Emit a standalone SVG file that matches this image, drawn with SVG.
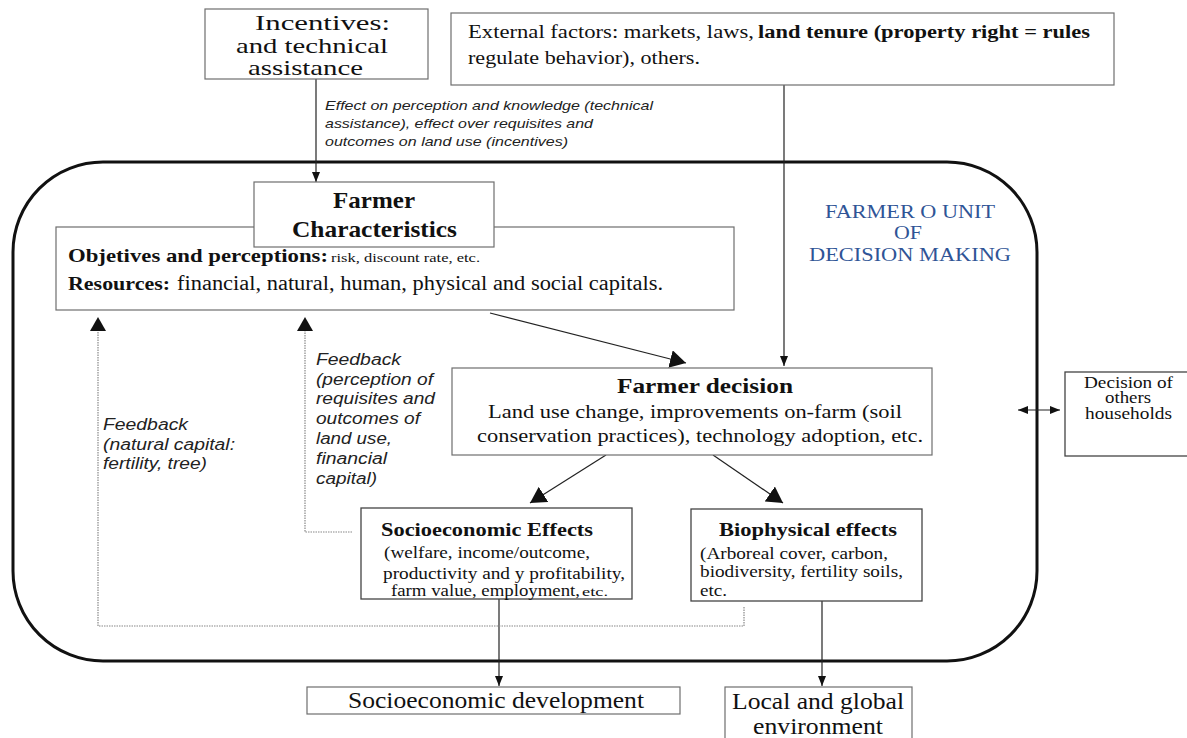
<svg xmlns="http://www.w3.org/2000/svg" width="1187" height="738" viewBox="0 0 1187 738">
<defs>
<style>
.box{fill:#fff;stroke:#6e6e6e;stroke-width:1.2}
.boxd{fill:#fff;stroke:#444;stroke-width:1.3}
.s{font-family:"Liberation Serif","Times New Roman",serif;fill:#111}
.b{font-weight:bold}
.i{font-family:"Liberation Sans",Arial,sans-serif;font-style:italic;fill:#222}
.blue{fill:#2f5496}
.ln{stroke:#222;stroke-width:1.2;fill:none}
.dot{stroke:#888;stroke-width:1.2;stroke-dasharray:1.5 1;fill:none}
</style>
<marker id="sm" markerUnits="userSpaceOnUse" markerWidth="10" markerHeight="10" viewBox="0 0 10 10" refX="10" refY="5" orient="auto"><path d="M0,1 L10,5 L0,9 z" fill="#111"/></marker>
<marker id="bg" markerUnits="userSpaceOnUse" markerWidth="16" markerHeight="18" viewBox="0 0 16 18" refX="16" refY="9" orient="auto"><path d="M0,0 L16,9 L0,18 z" fill="#111"/></marker>
<marker id="sms" markerUnits="userSpaceOnUse" markerWidth="10" markerHeight="10" viewBox="0 0 10 10" refX="0" refY="5" orient="auto"><path d="M10,1 L0,5 L10,9 z" fill="#111"/></marker>
</defs>
<rect width="1187" height="738" fill="#fff"/>

<g id="container">
<rect x="13" y="162" width="1024" height="499" rx="90" ry="90" fill="none" stroke="#111" stroke-width="3"/>
<text class="s blue" font-size="18" x="825" y="218" textLength="170" lengthAdjust="spacingAndGlyphs">FARMER O UNIT</text>
<text class="s blue" font-size="18" x="894" y="239" textLength="28" lengthAdjust="spacingAndGlyphs">OF</text>
<text class="s blue" font-size="18" x="809" y="261" textLength="202" lengthAdjust="spacingAndGlyphs">DECISION MAKING</text>
</g>

<g id="connectors">
<line class="ln" x1="316" y1="79" x2="316" y2="182" marker-end="url(#sm)"/>
<line class="ln" x1="784" y1="85" x2="784" y2="366" marker-end="url(#sm)"/>
<line class="ln" x1="490" y1="313" x2="686" y2="363" marker-end="url(#bg)"/>
<line class="ln" x1="606" y1="455" x2="530" y2="503" marker-end="url(#bg)"/>
<line class="ln" x1="713" y1="455" x2="783" y2="503" marker-end="url(#bg)"/>
<line class="ln" x1="499" y1="599" x2="499" y2="686" marker-end="url(#sm)"/>
<line class="ln" x1="822" y1="601" x2="822" y2="686" marker-end="url(#sm)"/>
<line class="ln" x1="1018" y1="410" x2="1060" y2="410" marker-start="url(#sms)" marker-end="url(#sm)"/>
<polyline class="dot" points="352,532 305,532 305,330"/>
<polyline class="dot" points="744,607 744,626 98,626 98,330"/>
<path d="M297,331 L305,317 L313,331 z" fill="#111"/>
<path d="M90,331 L98,317 L106,331 z" fill="#111"/>
<g class="i" font-size="13.5">
<text x="325" y="110" textLength="328" lengthAdjust="spacingAndGlyphs">Effect on perception and knowledge (technical</text>
<text x="325" y="128" textLength="268" lengthAdjust="spacingAndGlyphs">assistance), effect over requisites and</text>
<text x="325" y="146" textLength="243" lengthAdjust="spacingAndGlyphs">outcomes on land use (incentives)</text>
</g>
<g class="i" font-size="16">
<text x="103" y="430" textLength="85" lengthAdjust="spacingAndGlyphs">Feedback</text>
<text x="103" y="450" textLength="132" lengthAdjust="spacingAndGlyphs">(natural capital:</text>
<text x="103" y="469" textLength="104" lengthAdjust="spacingAndGlyphs">fertility, tree)</text>
<text x="316" y="365" textLength="85" lengthAdjust="spacingAndGlyphs">Feedback</text>
<text x="316" y="385" textLength="117" lengthAdjust="spacingAndGlyphs">(perception of</text>
<text x="316" y="404" textLength="119" lengthAdjust="spacingAndGlyphs">requisites and</text>
<text x="316" y="424" textLength="104" lengthAdjust="spacingAndGlyphs">outcomes of</text>
<text x="316" y="444" textLength="76" lengthAdjust="spacingAndGlyphs">land use,</text>
<text x="316" y="464" textLength="71" lengthAdjust="spacingAndGlyphs">financial</text>
<text x="316" y="484" textLength="61" lengthAdjust="spacingAndGlyphs">capital)</text>
</g>
</g>

<g id="incentives">
<rect class="box" x="205" y="9" width="223" height="70"/>
<text class="s" font-size="21" x="255" y="30" textLength="135" lengthAdjust="spacingAndGlyphs">Incentives:</text>
<text class="s" font-size="21" x="236" y="53" textLength="152" lengthAdjust="spacingAndGlyphs">and technical</text>
<text class="s" font-size="21" x="248" y="75" textLength="115" lengthAdjust="spacingAndGlyphs">assistance</text>
</g>

<g id="external">
<rect class="box" x="451" y="13" width="663" height="72"/>
<text class="s" font-size="18.5" x="468" y="38" textLength="286" lengthAdjust="spacingAndGlyphs">External factors: markets, laws,</text>
<text class="s b" font-size="18.5" x="758" y="38" textLength="332" lengthAdjust="spacingAndGlyphs">land tenure (property right = rules</text>
<text class="s" font-size="18.5" x="468" y="64" textLength="232" lengthAdjust="spacingAndGlyphs">regulate behavior), others.</text>
</g>

<g id="objectives">
<rect class="box" x="56" y="227" width="678" height="83"/>
<text class="s b" font-size="19" x="68" y="262" textLength="260" lengthAdjust="spacingAndGlyphs">Objetives and perceptions:</text>
<text class="s" font-size="13" x="331" y="262" textLength="149" lengthAdjust="spacingAndGlyphs">risk, discount rate,  etc.</text>
<text class="s b" font-size="19" x="68" y="290" textLength="102" lengthAdjust="spacingAndGlyphs">Resources:</text>
<text class="s" font-size="20" x="177" y="290" textLength="486" lengthAdjust="spacingAndGlyphs">financial, natural, human, physical and social capitals.</text>
</g>

<g id="characteristics">
<rect class="box" x="254" y="182" width="240" height="65"/>
<text class="s b" font-size="23" x="333" y="208" textLength="82" lengthAdjust="spacingAndGlyphs">Farmer</text>
<text class="s b" font-size="23" x="292" y="237" textLength="165" lengthAdjust="spacingAndGlyphs">Characteristics</text>
</g>

<g id="decision">
<rect class="box" x="452" y="368" width="480" height="87"/>
<text class="s b" font-size="22" x="617" y="393" textLength="176" lengthAdjust="spacingAndGlyphs">Farmer decision</text>
<text class="s" font-size="19.5" x="488" y="418" textLength="414" lengthAdjust="spacingAndGlyphs">Land use change, improvements on-farm (soil</text>
<text class="s" font-size="19.5" x="477" y="442" textLength="446" lengthAdjust="spacingAndGlyphs">conservation practices), technology adoption, etc.</text>
</g>

<g id="socioeconomic-effects">
<rect class="boxd" x="361" y="508" width="271" height="91"/>
<text class="s b" font-size="18.5" x="381" y="536" textLength="212" lengthAdjust="spacingAndGlyphs">Socioeconomic Effects</text>
<text class="s" font-size="16" x="384" y="558" textLength="206" lengthAdjust="spacingAndGlyphs">(welfare, income/outcome,</text>
<text class="s" font-size="16" x="383" y="579" textLength="242" lengthAdjust="spacingAndGlyphs">productivity and y profitability,</text>
<text class="s" font-size="16" x="391" y="596" textLength="189" lengthAdjust="spacingAndGlyphs">farm value, employment,</text>
<text class="s" font-size="12.5" x="582" y="596" textLength="26" lengthAdjust="spacingAndGlyphs">etc.</text>
</g>

<g id="biophysical-effects">
<rect class="boxd" x="691" y="509" width="231" height="92"/>
<text class="s b" font-size="18.5" x="719" y="536" textLength="178" lengthAdjust="spacingAndGlyphs">Biophysical effects</text>
<text class="s" font-size="16.5" x="700" y="559" textLength="188" lengthAdjust="spacingAndGlyphs">(Arboreal cover, carbon,</text>
<text class="s" font-size="16.5" x="700" y="577" textLength="203" lengthAdjust="spacingAndGlyphs">biodiversity, fertility soils,</text>
<text class="s" font-size="16.5" x="700" y="596" textLength="27" lengthAdjust="spacingAndGlyphs">etc.</text>
</g>

<g id="others">
<rect class="boxd" x="1065" y="372" width="125" height="84"/>
<text class="s" font-size="16" x="1084" y="388" textLength="89" lengthAdjust="spacingAndGlyphs">Decision of</text>
<text class="s" font-size="16" x="1105" y="403" textLength="46" lengthAdjust="spacingAndGlyphs">others</text>
<text class="s" font-size="16" x="1085" y="419" textLength="87" lengthAdjust="spacingAndGlyphs">households</text>
</g>

<g id="socio-development">
<rect class="box" x="307" y="687" width="373" height="27" stroke="#999"/>
<text class="s" font-size="23" x="348" y="708" textLength="296" lengthAdjust="spacingAndGlyphs">Socioeconomic development</text>
</g>

<g id="environment">
<rect class="box" x="725" y="687" width="187" height="60"/>
<text class="s" font-size="23" x="732" y="709" textLength="172" lengthAdjust="spacingAndGlyphs">Local and global</text>
<text class="s" font-size="23" x="753" y="734" textLength="130" lengthAdjust="spacingAndGlyphs">environment</text>
</g>
</svg>
